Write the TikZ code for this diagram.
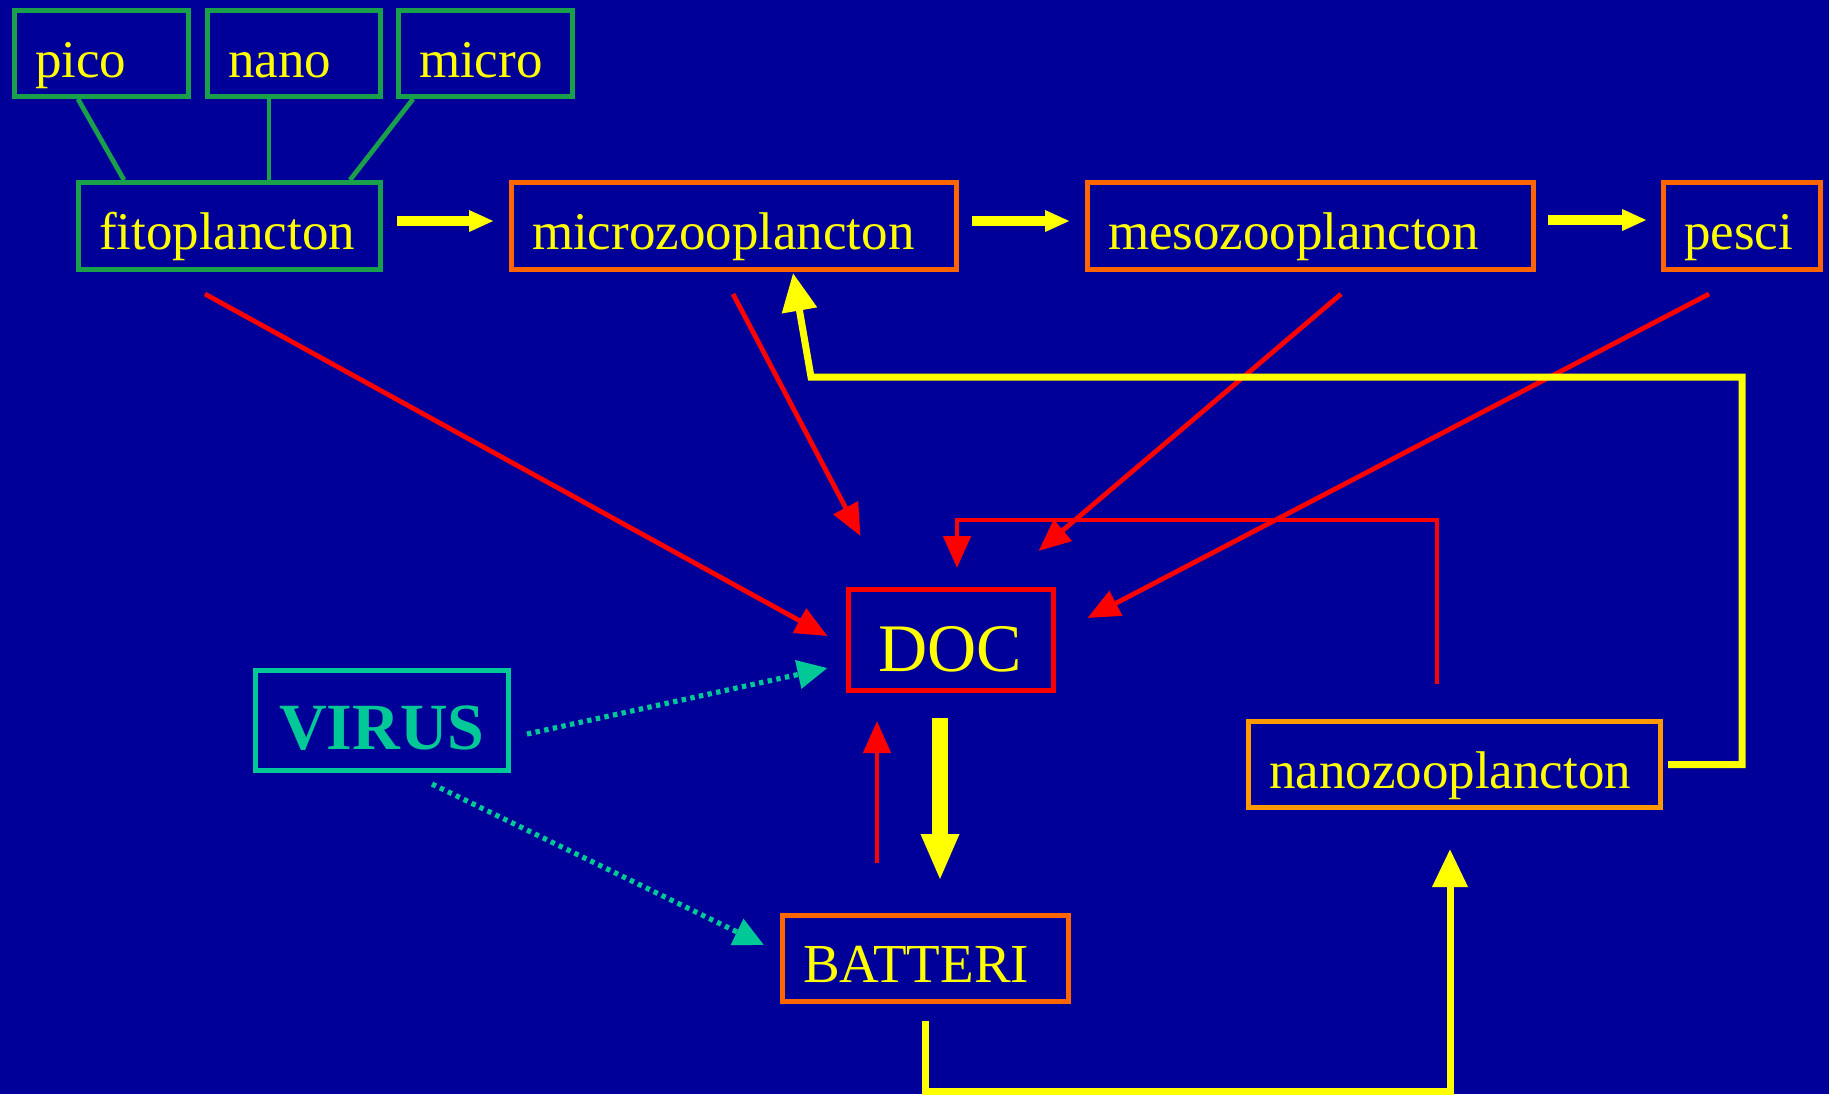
\documentclass[tikz,border=0pt]{standalone}
\usepackage{fontspec}
\setmainfont{Liberation Serif}
\usepackage{tikz}
\usetikzlibrary{arrows.meta,calc}
\definecolor{bgblue}{HTML}{000099}
\definecolor{leaf}{HTML}{1AA04A}
\definecolor{zoo}{HTML}{FF6600}
\definecolor{nanozoo}{HTML}{FF9900}
\definecolor{virus}{HTML}{00C896}
\definecolor{docred}{HTML}{FF0000}
\definecolor{flow}{HTML}{FFFF00}

\begin{document}
\begin{tikzpicture}[x=0.5pt,y=-0.5pt,
  box/.style={draw,line width=2.5pt,text=flow,align=left,inner xsep=10.25pt,inner ysep=0pt,
    font=\fontsize{26.5}{30}\selectfont,text height=23.5pt,text depth=0pt,minimum height=43pt},
  leafbox/.style={box,draw=leaf},
  zoobox/.style={box,draw=zoo},
  link/.style={leaf,line width=2.4pt},
  graze/.style={flow,line width=5pt,-{Triangle[length=12.5pt,width=10pt]}},
  release/.style={docred,line width=2.4pt,-{Triangle[length=16pt,width=13.5pt]}},
  loopflow/.style={flow,line width=3.5pt,-{Triangle[length=19pt,width=17pt]}},
  uptake/.style={flow,line width=8pt,-{Triangle[length=23.5pt,width=17.5pt]}},
  lysis/.style={virus,line width=2.6pt,dash pattern=on 2.2pt off 2.2pt,-{Triangle[length=15pt,width=14pt]}}]
  \fill[bgblue] (0,0) rectangle (1829,1094);
  \useasboundingbox (0,0) rectangle (1829,1094);
  % boxes
  \node[leafbox,text width=66.5pt] (pico) at (101.5,53.5) {pico};
  \node[leafbox,text width=66pt] (nano) at (294,53.5) {nano};
  \node[leafbox,text width=66.5pt] (micro) at (485.5,53.5) {micro};
  \node[leafbox,text width=130.5pt,minimum height=43.5pt] (fito) at (229.5,226) {fitoplancton};
  \node[zoobox,text width=202pt,minimum height=43.5pt] (microzoo) at (734,226) {microzooplancton};
  \node[zoobox,text width=202.5pt,minimum height=43.5pt] (meso) at (1310.5,226) {mesozooplancton};
  \node[zoobox,text width=58pt,minimum height=43.5pt] (pesci) at (1742,226) {pesci};
  \node[box,draw=docred,align=center,text width=82pt,minimum height=50.5pt,
    font=\fontsize{34}{38}\selectfont,text height=31pt] (doc) at (950.5,640) {DOC};
  \node[box,draw=virus,text=virus,align=center,text width=106pt,minimum height=50pt,
    font=\fontsize{33}{36}\selectfont\bfseries,text height=28.5pt] (virus) at (382,720.5) {VIRUS};
  \node[zoobox,text width=122.5pt,font=\fontsize{27.5}{30}\selectfont] (batteri) at (925.5,958.5) {BATTERI};
  \node[box,draw=nanozoo,text width=185.5pt] (nanozoo) at (1454.5,764.5) {nanozooplancton};
  % size classes
  \draw[link] ($(pico.south)+(-23.5,0)$) -- ($(fito.north)+(-105.5,0)$);
  \draw[link] ($(nano.south)+(-25,0)$) -- ($(fito.north)+(39.5,0)$);
  \draw[link] ($(micro.south)+(-72.5,0)$) -- ($(fito.north)+(120.5,0)$);
  % food chain
  \draw[graze] ($(fito.east)+(14,-5)$) -- ($(microzoo.west)+(-15,-5)$);
  \draw[graze] ($(microzoo.east)+(13,-5)$) -- ($(meso.west)+(-15,-5)$);
  \draw[graze] ($(meso.east)+(12,-6)$) -- ($(pesci.west)+(-14,-6)$);
  % release of DOC
  \draw[release] ($(fito.south)+(-24.5,22)$) -- ($(doc.west)+(-18,-4)$);
  \draw[release] ($(microzoo.south)+(-1,22)$) -- ($(doc.north west)+(15,-51)$);
  \draw[release] ($(meso.south)+(30.5,22)$) -- ($(doc.north east)+(-17,-36)$);
  \draw[release] ($(pesci.south)+(-33,22)$) -- ($(doc.east)+(32,-22)$);
  \draw[release] ($(nanozoo.north)+(-17.5,-35)$) |- ($(doc.north)+(6.5,-67)$) -- ($(doc.north)+(6.5,-19)$);
  \draw[release] ($(batteri.north)+(-48.5,-50)$) -- ($(doc.south)+(-73.5,28)$);
  % microbial loop
  \draw[uptake] ($(doc.south)+(-10.5,25)$) -- ($(batteri.north)+(14.5,-32)$);
  \draw[loopflow] ($(batteri.south)+(0,17)$) -- ($(batteri.south)+(0,87)$) -| ($(nanozoo.south)+(-4.5,39)$);
  \draw[loopflow] ($(nanozoo.east)+(5,0)$) -| ($(pesci.south)+(0,105)$) -- ($(microzoo.south)+(77,105)$) -- ($(microzoo.south)+(59,1)$);
  % viruses
  \draw[lysis] ($(virus.east)+(16,13.5)$) -- ($(doc.west)+(-18,28)$);
  \draw[lysis] ($(virus.south)+(50,11)$) -- ($(batteri.west)+(-16,-13.5)$);
\end{tikzpicture}
\end{document}
